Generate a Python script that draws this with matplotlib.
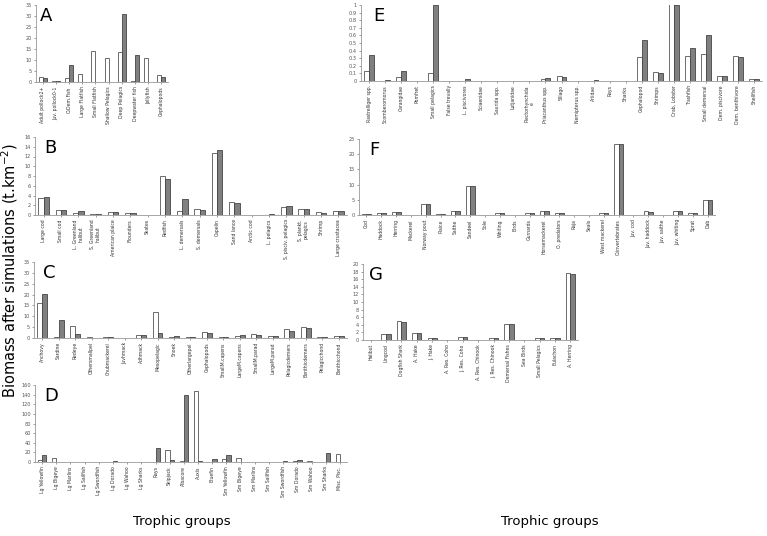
import numpy as np
import matplotlib
matplotlib.use("Agg")
import matplotlib.pyplot as plt

# Panel A
a_labels = ['Adult pollock2+', 'Juv. pollock0-1', 'O.Dem.Fish', 'Large Flatfish', 'Small Flatfish',
            'Shallow Pelagics', 'Deep Pelagics', 'Deepwater fish', 'Jellyfish', 'Cephalopods']
a_white = [2.5, 0.3, 2.0, 3.5, 14.2, 10.9, 13.8, 0.3, 11.1, 3.0]
a_grey = [1.8, 0.3, 7.6, 0.2, 0.1, 0.1, 30.8, 12.3, 0.2, 2.5]

# Panel B
b_labels = ['Large cod', 'Small cod', 'L. Greenland\nhalibut', 'S. Greenland\nhalibut', 'American plaice',
            'Flounders', 'Skates', 'Redfish', 'L. demersals', 'S. demersals', 'Capelin', 'Sand lance',
            'Arctic cod', 'L. pelagics', 'S. pisciv. pelagics', 'S. plankt.\npelagics', 'Shrimp',
            'Large crustacea']
b_white = [3.4, 1.1, 0.4, 0.3, 0.6, 0.4, 0.1, 7.9, 0.9, 1.2, 12.8, 2.7, 0.05, 0.05, 1.7, 1.2, 0.6, 0.8]
b_grey = [3.6, 1.1, 0.8, 0.2, 0.6, 0.4, 0.05, 7.4, 3.3, 1.0, 13.3, 2.5, 0.05, 0.2, 1.9, 1.2, 0.5, 0.8]

# Panel C
c_labels = ['Anchovy', 'Sardine', 'Redeye', 'Othersmallpel', 'Chubmackerel', 'Juvhmack', 'Adhmack',
            'Mesopelagic', 'Snoek', 'Otherlargepel', 'Cephalopods', 'SmallM.capens', 'LargeM.capens',
            'SmallM.parad', 'LargeM.parad', 'Pelagicdemers', 'Benthicdemers', 'Pelagicchond',
            'Benthicchond']
c_white = [16.2, 0.3, 5.4, 0.5, 0.3, 0.2, 1.5, 12.0, 0.4, 0.3, 2.6, 0.6, 1.1, 1.8, 1.0, 4.2, 5.0, 0.6, 1.1]
c_grey = [20.3, 8.3, 2.0, 0.2, 0.3, 0.2, 1.5, 2.3, 1.0, 0.6, 2.5, 0.5, 1.3, 1.3, 0.7, 3.0, 4.7, 0.3, 1.1]

# Panel D
d_labels = ['Lg Yellowfin', 'Lg Bigeye', 'Lg Marlins', 'Lg Sailfish', 'Lg Swordfish', 'Lg Dorado',
            'Lg Wahoo', 'Lg Sharks', 'Rays', 'Skipjack', 'Albacore', 'Auxis', 'Bluefin', 'Sm Yellowfin',
            'Sm Bigeye', 'Sm Marlins', 'Sm Sailfish', 'Sm Swordfish', 'Sm Dorado', 'Sm Wahoo',
            'Sm Sharks', 'Misc. Pisc.']
d_white = [4, 8, 0.5, 0.5, 0.5, 1, 0.5, 0.5, 0.5, 24, 3, 148, 0.5, 6, 8, 0.5, 0.5, 1, 2, 2, 1, 17]
d_grey = [15, 1, 0.5, 0.5, 0.5, 3, 0.5, 0.5, 30, 5, 140, 2, 6, 14, 1, 0.5, 0.5, 2, 4, 0.5, 18, 1]

# Panel E
e_labels = ['Rastrelliger spp.', 'Scomberomorus', 'Carangidae', 'Pomfret', 'Small pelagics',
            'False trevally', 'L. piscivores', 'Sciaenidae', 'Saurida spp.', 'Lutjanidae',
            'Plectorhynchida\ne', 'Priacanthus spp.', 'Sillago', 'Nemipterus spp.', 'Ariidae', 'Rays',
            'Sharks', 'Cephalopod', 'Shrimps', 'Crab, Lobster', 'Trashfish', 'Small demersal',
            'Dem. piscivore', 'Dem. benthivore', 'Shellfish']
e_white = [0.13, 0.005, 0.05, 0.005, 0.1, 0.005, 0.005, 0.005, 0, 0, 0.005, 0.03, 0.07, 0, 0.005,
           0.005, 0, 0.31, 0.12, 1.05, 0.33, 0.36, 0.07, 0.33, 0.02]
e_grey = [0.34, 0.01, 0.13, 0.005, 1.0, 0.005, 0.02, 0.005, 0, 0.003, 0, 0.035, 0.05, 0, 0.008,
          0.005, 0.005, 0.54, 0.10, 1.0, 0.44, 0.60, 0.07, 0.31, 0.02]

# Panel F
f_labels = ['Cod', 'Haddock', 'Herring', 'Mackerel', 'Norway pout', 'Plaice', 'Saithe', 'Sandeel',
            'Sole', 'Whiting', 'Birds', 'Gurnards', 'Horsemackerel', 'O. predators', 'Raja', 'Seals',
            'West mackerel', 'O.invertebrates', 'Juv. cod', 'Juv. haddock', 'Juv. saithe',
            'Juv. whiting', 'Sprat', 'Dab']
f_white = [0.3, 0.6, 1.0, 0.1, 3.6, 0.4, 1.4, 9.5, 0.1, 0.6, 0.05, 0.5, 1.3, 0.6, 0.1, 0.03, 0.7,
           23.4, 0.1, 1.2, 0.1, 1.2, 0.5, 5.0]
f_grey = [0.3, 0.6, 1.0, 0.1, 3.6, 0.4, 1.4, 9.5, 0.1, 0.6, 0.05, 0.5, 1.2, 0.5, 0.1, 0.03, 0.6,
          23.4, 0.1, 1.1, 0.1, 1.2, 0.5, 5.0]

# Panel G
g_labels = ['Halibut', 'Lingcod', 'Dogfish Shark', 'A. Hake', 'J. Hake', 'A. Res. Coho', 'J. Res. Coho',
            'A. Res. Chinook', 'J. Res. Chinook', 'Demersal Fishes', 'Sea Birds', 'Small Pelagics',
            'Eulachon', 'A. Herring']
g_white = [0.1, 1.6, 5.0, 1.9, 0.6, 0.1, 0.9, 0.1, 0.6, 4.3, 0.1, 0.4, 0.4, 17.6]
g_grey = [0.1, 1.5, 4.8, 1.8, 0.6, 0.1, 0.8, 0.1, 0.5, 4.1, 0.1, 0.5, 0.4, 17.3]

W, H = 767, 536
fig = plt.figure(figsize=(W / 100, H / 100), dpi=100)


def panel(px, letter, labels, white, grey, ymax, ystep, tickfmt='{:g}'):
    l, t, r, b = px
    ax = fig.add_axes([l / W, 1 - b / H, (r - l) / W, (b - t) / H])
    x = np.arange(len(labels))
    bw = 0.3
    ax.bar(x - bw / 2, white, bw, color='white', edgecolor='#555555', linewidth=0.6)
    ax.bar(x + bw / 2, grey, bw, color='#808080', edgecolor='#444444', linewidth=0.6)
    ax.set_xlim(-0.5, len(labels) - 0.5)
    ax.set_ylim(0, ymax)
    ax.set_yticks(np.arange(0, ymax + ystep / 2, ystep))
    ax.set_yticklabels([tickfmt.format(v) for v in np.arange(0, ymax + ystep / 2, ystep)])
    ax.set_xticks(x)
    ax.set_xticklabels(labels, rotation=90, fontsize=3.3, color='#333333')
    ax.tick_params(axis='y', labelsize=3.6, length=1.5, width=0.4, colors='#555555', pad=1.5)
    ax.tick_params(axis='x', length=1.5, width=0.4, pad=1.5, colors='#555555')
    for lab in ax.get_xticklabels():
        lab.set_color('#333333')
    for s in ['top', 'right']:
        ax.spines[s].set_visible(False)
    for s in ['left', 'bottom']:
        ax.spines[s].set_color('#999999')
        ax.spines[s].set_linewidth(0.6)
    ax.text(0.03, 0.98, letter, transform=ax.transAxes, fontsize=13, va='top', ha='left')
    return ax


panel((36, 5, 168, 82), 'A', a_labels, a_white, a_grey, 35, 5)
panel((35, 137, 347, 215), 'B', b_labels, b_white, b_grey, 16, 2)
panel((34, 262, 347, 338), 'C', c_labels, c_white, c_grey, 35, 5)
panel((35, 385, 347, 462), 'D', d_labels, d_white, d_grey, 160, 20)
panel((361, 5, 762, 81), 'E', e_labels, e_white, e_grey, 1.0, 0.1)
panel((359, 139, 715, 215), 'F', f_labels, f_white, f_grey, 25, 5)
panel((363, 264, 578, 340), 'G', g_labels, g_white, g_grey, 20, 2)

fig.text(10 / W, 1 - 270 / H, 'Biomass after simulations (t.km$^{-2}$)', rotation=90,
         fontsize=10.5, ha='center', va='center')
fig.text(182 / W, 1 - 521 / H, 'Trophic groups', fontsize=9.5, ha='center', va='center')
fig.text(550 / W, 1 - 521 / H, 'Trophic groups', fontsize=9.5, ha='center', va='center')

fig.savefig('out.png', dpi=100, facecolor='white')
